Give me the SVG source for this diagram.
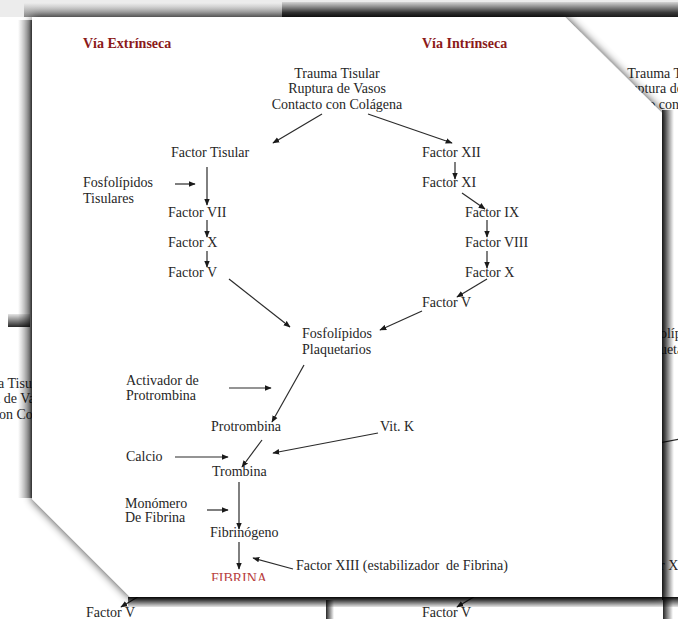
<svg xmlns="http://www.w3.org/2000/svg" width="678" height="619" viewBox="0 0 678 619">
<defs>
<style>
.t{font-family:"Liberation Serif","Times New Roman",serif;font-size:14px;fill:#262626}
.h{font-weight:bold;fill:#8b1a1a}
.r{fill:#b8413f}
.m{text-anchor:middle}
.c line{stroke:#2b2b2b;stroke-width:1.2;marker-end:url(#ah)}
.bg line{stroke:#2b2b2b;stroke-width:1.2;marker-end:url(#ah)}
</style>
<marker id="ah" viewBox="0 0 10 10" refX="9" refY="5" markerWidth="7" markerHeight="7" markerUnits="userSpaceOnUse" orient="auto"><path d="M0,1 L10,5 L0,9 z" fill="#1a1a1a"/></marker>
<linearGradient id="gTopL" x1="0" y1="0" x2="0" y2="1"><stop offset="0" stop-color="#ececec"/><stop offset="1" stop-color="#8a8a8a"/></linearGradient>
<linearGradient id="gTopR" x1="0" y1="0" x2="0" y2="1"><stop offset="0" stop-color="#d4d4d4"/><stop offset="0.7" stop-color="#3a3a3a"/><stop offset="1" stop-color="#1a1a1a"/></linearGradient>
<linearGradient id="gRight" x1="0" y1="0" x2="1" y2="0"><stop offset="0" stop-color="#000" stop-opacity="0.85"/><stop offset="1" stop-color="#000" stop-opacity="0"/></linearGradient>
<linearGradient id="gLeft" x1="0" y1="0" x2="1" y2="0"><stop offset="0" stop-color="#000" stop-opacity="0"/><stop offset="0.8" stop-color="#000" stop-opacity="0.4"/><stop offset="1" stop-color="#000" stop-opacity="0.7"/></linearGradient>
<linearGradient id="gBottom" x1="0" y1="0" x2="0" y2="1"><stop offset="0" stop-color="#000" stop-opacity="0.95"/><stop offset="1" stop-color="#000" stop-opacity="0.1"/></linearGradient>
<linearGradient id="gBand" x1="0" y1="0" x2="0" y2="1"><stop offset="0" stop-color="#000" stop-opacity="0.1"/><stop offset="1" stop-color="#000" stop-opacity="0.85"/></linearGradient>
<filter id="sh" x="-10%" y="-10%" width="120%" height="120%">
<feGaussianBlur in="SourceAlpha" stdDeviation="5" result="b"/>
<feComponentTransfer in="b" result="s"><feFuncA type="linear" slope="0.8"/></feComponentTransfer>
<feMerge><feMergeNode in="s"/><feMergeNode in="SourceGraphic"/></feMerge>
</filter>
<clipPath id="clipF"><rect x="0" y="0" width="678" height="581"/></clipPath>
</defs>

<!-- background pages -->
<rect x="0" y="0" width="678" height="619" fill="#ffffff"/>
<rect x="0" y="0" width="678" height="17" fill="#ececec"/>
<rect x="24" y="3" width="260" height="14" fill="url(#gTopL)"/>
<rect x="282" y="2" width="396" height="15" fill="url(#gTopR)"/>

<g id="copy-right" class="bg" transform="translate(333,0)">
<text class="t m" x="337" y="78">Trauma Tisular</text>
<text class="t m" x="337" y="93">Ruptura de Vasos</text>
<text class="t m" x="337" y="109">Contacto con Colágena</text>
<text class="t" x="302" y="338">Fosfolípidos</text>
<text class="t" x="302" y="354">Plaquetarios</text>
<line x1="378" y1="433" x2="273" y2="453"/>
<text class="t" x="296" y="570">Factor XIII</text>
</g>

<g id="copy-bottom" class="bg" transform="translate(0,310)">
<text class="t" x="422" y="307">Factor V</text>
<line x1="487" y1="279" x2="457" y2="297"/>
</g>

<g id="copy-bottom-left" class="bg" transform="translate(-333,310)">
<text class="t m" x="337" y="78">Trauma Tisular</text>
<text class="t m" x="337" y="93">Ruptura de Vasos</text>
<text class="t m" x="337" y="109">Contacto con Colágena</text>
<text class="t" x="419" y="307">Factor V</text>
<line x1="484" y1="279" x2="454" y2="297"/>
</g>
<rect x="8" y="314" width="22" height="13" fill="url(#gBand)"/>
<rect x="326" y="600" width="8" height="19" fill="url(#gRight)"/>
<rect x="663" y="600" width="10" height="19" fill="url(#gRight)"/>
<rect x="18" y="20" width="14" height="478" fill="url(#gLeft)"/>

<!-- main page -->
<polygon id="page" points="32,17 565,17 662,113 662,597 130,597 32,499" fill="#ffffff" filter="url(#sh)"/>
<rect x="662" y="110" width="12" height="490" fill="url(#gRight)"/>
<rect x="128" y="597" width="550" height="10" fill="url(#gBottom)"/>

<!-- connectors -->
<g id="connectors" class="c">
<line x1="322" y1="114" x2="273" y2="143"/>
<line x1="368" y1="114" x2="452" y2="143"/>
<line x1="207" y1="167" x2="207" y2="205"/>
<line x1="175" y1="184" x2="195" y2="184"/>
<line x1="207" y1="220" x2="207" y2="237"/>
<line x1="207" y1="251" x2="207" y2="267"/>
<line x1="229" y1="279" x2="290" y2="327"/>
<line x1="455" y1="162" x2="455" y2="179"/>
<line x1="462" y1="193" x2="485" y2="209"/>
<line x1="487" y1="220" x2="487" y2="237"/>
<line x1="487" y1="251" x2="487" y2="268"/>
<line x1="487" y1="279" x2="457" y2="297"/>
<line x1="422" y1="311" x2="380" y2="330"/>
<line x1="304" y1="365" x2="272" y2="422"/>
<line x1="229" y1="388" x2="271" y2="388"/>
<line x1="175" y1="457" x2="228" y2="457"/>
<line x1="378" y1="433" x2="273" y2="453"/>
<line x1="262" y1="440" x2="242" y2="467"/>
<line x1="239" y1="482" x2="239" y2="529"/>
<line x1="207" y1="510" x2="228" y2="510"/>
<line x1="239" y1="542" x2="239" y2="569"/>
<line x1="293" y1="569" x2="253" y2="558"/>
</g>

<!-- nodes -->
<g id="n-via-ext"><text class="t h" x="83" y="48">Vía Extrínseca</text></g>
<g id="n-via-int"><text class="t h" x="422" y="48">Vía Intrínseca</text></g>
<g id="n-trauma">
<text class="t m" x="337" y="78">Trauma Tisular</text>
<text class="t m" x="337" y="93">Ruptura de Vasos</text>
<text class="t m" x="337" y="109">Contacto con Colágena</text>
</g>
<g id="n-factor-tisular"><text class="t" x="171" y="157">Factor Tisular</text></g>
<g id="n-fosf-tis"><text class="t" x="83" y="187">Fosfolípidos</text><text class="t" x="83" y="203">Tisulares</text></g>
<g id="n-f7"><text class="t" x="168" y="217">Factor VII</text></g>
<g id="n-f10e"><text class="t" x="168" y="247">Factor X</text></g>
<g id="n-f5e"><text class="t" x="168" y="277">Factor V</text></g>
<g id="n-f12"><text class="t" x="422" y="157">Factor XII</text></g>
<g id="n-f11"><text class="t" x="422" y="187">Factor XI</text></g>
<g id="n-f9"><text class="t" x="465" y="217">Factor IX</text></g>
<g id="n-f8"><text class="t" x="465" y="247">Factor VIII</text></g>
<g id="n-f10i"><text class="t" x="465" y="277">Factor X</text></g>
<g id="n-f5i"><text class="t" x="422" y="307">Factor V</text></g>
<g id="n-fosf-plaq"><text class="t" x="302" y="338">Fosfolípidos</text><text class="t" x="302" y="354">Plaquetarios</text></g>
<g id="n-activador"><text class="t" x="126" y="385">Activador de</text><text class="t" x="126" y="400">Protrombina</text></g>
<g id="n-protrombina"><text class="t" x="211" y="431">Protrombina</text></g>
<g id="n-vitk"><text class="t" x="380" y="431">Vit. K</text></g>
<g id="n-calcio"><text class="t" x="126" y="461">Calcio</text></g>
<g id="n-trombina"><text class="t" x="212" y="476">Trombina</text></g>
<g id="n-monomero"><text class="t" x="125" y="508">Monómero</text><text class="t" x="125" y="522">De Fibrina</text></g>
<g id="n-fibrinogeno"><text class="t" x="210" y="537">Fibrinógeno</text></g>
<g id="n-fibrina" clip-path="url(#clipF)"><text class="t r" x="211" y="583">FIBRINA</text></g>
<g id="n-f13"><text class="t" x="296" y="570" xml:space="preserve" style="white-space:pre">Factor XIII (estabilizador  de Fibrina)</text></g>
</svg>
